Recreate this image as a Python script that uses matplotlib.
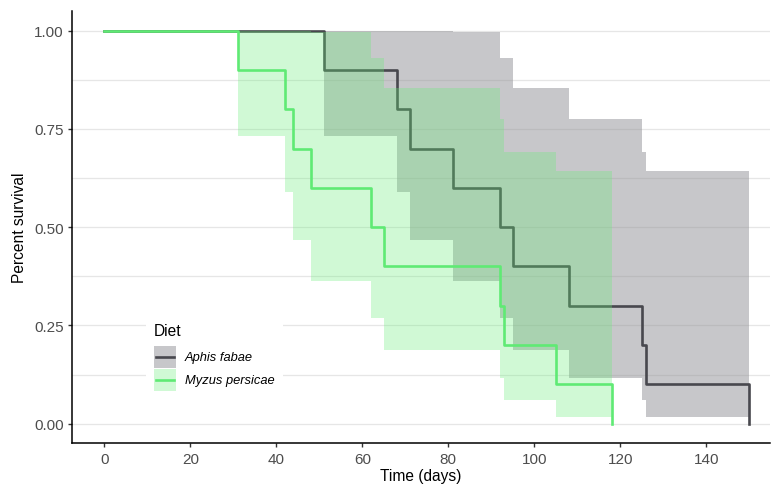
import matplotlib
matplotlib.use("Agg")
import matplotlib.pyplot as plt
from matplotlib.patches import Rectangle
from matplotlib.lines import Line2D
import numpy as np

plt.rcParams['font.family'] = ['Liberation Sans', 'DejaVu Sans']

W, H = 771, 489

# Kaplan-Meier steps
aphis_time = [0, 51, 68, 71, 81, 92, 95, 108, 125, 126, 150]
aphis_surv = [1.0, 0.9, 0.8, 0.7, 0.6, 0.5, 0.4, 0.3, 0.2, 0.1, 0.0]
aphis_upper = [1.0, 1.0, 1.0, 1.0, 0.996, 0.93, 0.855, 0.774, 0.691, 0.643, 0.643]
aphis_lower = [1.0, 0.733, 0.589, 0.468, 0.363, 0.268, 0.188, 0.117, 0.059, 0.016, 0.016]

myzus_time = [0, 31, 42, 44, 48, 62, 65, 92, 93, 105, 118]
myzus_surv = [1.0, 0.9, 0.8, 0.7, 0.6, 0.5, 0.4, 0.3, 0.2, 0.1, 0.0]
myzus_upper = [1.0, 1.0, 1.0, 1.0, 0.996, 0.93, 0.855, 0.774, 0.691, 0.643, 0.643]
myzus_lower = [1.0, 0.733, 0.589, 0.468, 0.363, 0.268, 0.188, 0.117, 0.059, 0.016, 0.016]

labels = ["Aphis fabae", "Myzus persicae"]
line_colors = ["#48484e", "#5fea74"]
fill_colors = ["#919196", "#66ee77"]
fill_alpha = [0.5, 0.3]


def px(x, y):
    # pixel position (from top left) -> figure fraction
    return x / W, 1 - y / H


fig = plt.figure(figsize=(W / 100, H / 100), dpi=100)
ax = fig.add_axes([72 / W, 1 - 444.3 / H, (770 - 72) / W, (444.3 - 12) / H])

series = [(aphis_time, aphis_surv, aphis_upper, aphis_lower),
          (myzus_time, myzus_surv, myzus_upper, myzus_lower)]
for i, (t, s, up, lo) in enumerate(series):
    ax.fill_between(t, lo, up, step='post', color=fill_colors[i],
                    alpha=fill_alpha[i], linewidth=0, zorder=2 + 2*i)
    ax.step(t, s, where='post', color=line_colors[i], lw=1.9, zorder=3 + 2*i)

ax.set_xlim(-7.5, 154.8)
ax.set_ylim(-0.05, 1.05)
ax.set_xticks(np.arange(0, 141, 20))
ax.set_yticks([0, 0.25, 0.5, 0.75, 1.0])
ax.set_yticklabels(["0.00", "0.25", "0.50", "0.75", "1.00"])
ax.set_yticks(np.arange(0.125, 1.0, 0.25), minor=True)
ax.grid(axis='y', which='both', color='#e6e6e6', lw=0.9, zorder=0)
ax.set_axisbelow(True)

for side in ['top', 'right']:
    ax.spines[side].set_visible(False)
for side in ['left', 'bottom']:
    ax.spines[side].set_linewidth(1.1)
ax.tick_params(which='major', length=3, width=1, color='#333333',
               labelsize=11, labelcolor='#4d4d4d', pad=3)
ax.tick_params(which='minor', length=0)

ax.set_xlabel("Time (days)", fontsize=11.2, labelpad=2)
ax.set_ylabel("Percent survival", fontsize=11.2, labelpad=5)

# legend drawn by hand inside the panel
x0, y0 = px(146, 398)
x1, y1 = px(283, 314)
fig.add_artist(Rectangle((x0, y0), x1 - x0, y1 - y0, transform=fig.transFigure,
                         facecolor='white', edgecolor='none', zorder=10))
fig.text(*px(154, 336), "Diet", fontsize=11.2, ha='left', va='baseline', zorder=11)
key_top = [347, 370]
for i in range(2):
    kx, ky = px(154, key_top[i] + 22)
    fig.add_artist(Rectangle((kx, ky), 22 / W, 22 / H, transform=fig.transFigure,
                             facecolor=fill_colors[i], alpha=fill_alpha[i],
                             edgecolor='none', zorder=11))
    lx0, ly = px(156, key_top[i] + 11)
    lx1, _ = px(174, 0)
    fig.add_artist(Line2D([lx0, lx1], [ly, ly], transform=fig.transFigure,
                          color=line_colors[i], lw=1.9, zorder=12))
    fig.text(*px(185, key_top[i] + 11), labels[i], fontsize=9.3, style='italic',
             ha='left', va='center', zorder=12)

fig.savefig("out.png", dpi=100)
